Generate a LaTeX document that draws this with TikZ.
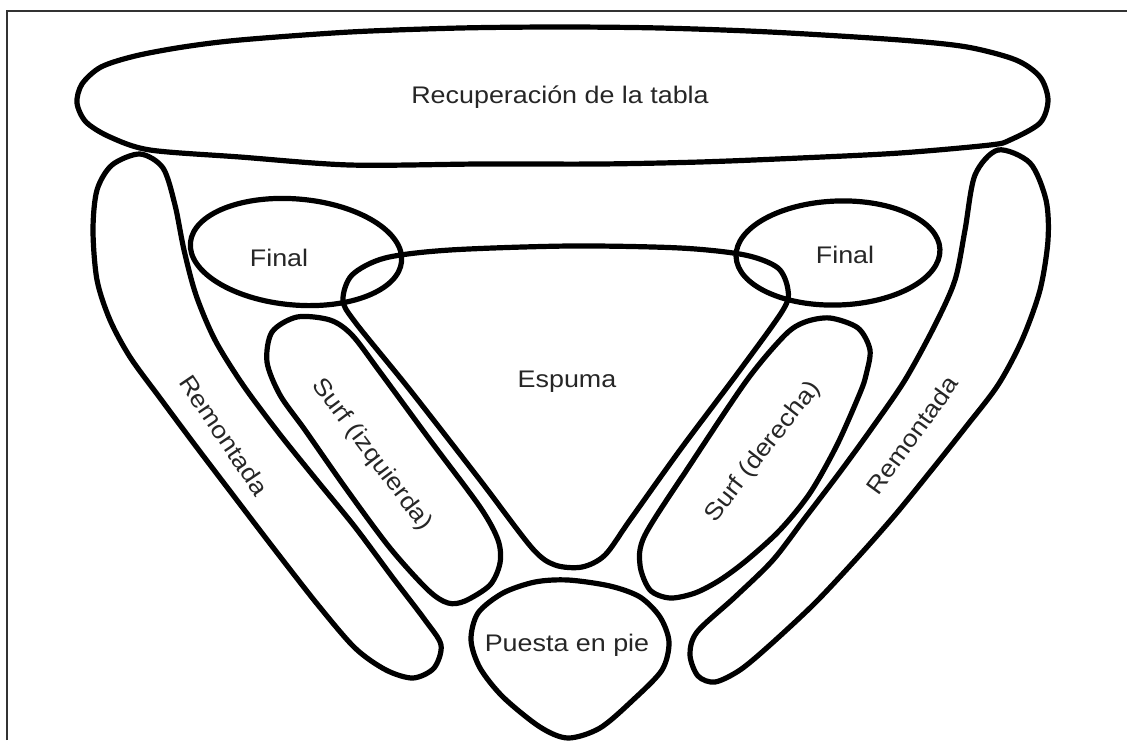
\documentclass[tikz,border=0pt]{standalone}
\usepackage{fontspec}
\setmainfont{Liberation Sans}
\usepackage{tikz}

\newcommand{\wide}[1]{\scalebox{1.12}[1]{#1}}

\begin{document}
\begin{tikzpicture}[x=1pt, y=-1pt,
  blob/.style={line width=5.2pt, line join=round},
  frame/.style={line width=1.8pt, black!80},
  lbl/.style={inner sep=0pt, text=black!85, font=\fontsize{24}{28}\selectfont}]
  \useasboundingbox (0,0) rectangle (1127,740);
  \draw[frame] (7,740) -- (7,11) -- (1127,11);
  \draw[blob] plot[smooth cycle] coordinates {(77,103) (82,84) (101,67) (135,56) (183,47) (240,40) (350,32) (460,28) (560,27) (660,28) (770,32) (900,40) (967,47) (1016,60) (1040,77) (1048,100) (1040,123) (1010,140) (990,145) (900,153) (800,158) (700,162) (600,164) (480,164) (350,165) (240,157) (150,150) (110,137) (86,122)};
  \draw[blob] plot[smooth cycle] coordinates {(140,154) (112,165) (97,190) (93,230) (97,280) (110,320) (130,357) (160,398) (195,445) (233,495) (275,550) (318,605) (355,648) (386,670) (413,678) (434,668) (441,645) (425,620) (393,578) (355,527) (315,478) (278,432) (243,385) (215,340) (196,295) (184,250) (175,205) (163,168)};
  \draw[blob] plot[smooth cycle] coordinates {(998,150) (1030,163) (1046,200) (1048,240) (1040,290) (1022,340) (998,385) (965,428) (930,472) (895,515) (858,557) (815,603) (770,645) (740,670) (715,682) (698,676) (690,655) (697,632) (735,597) (773,560) (805,518) (840,472) (872,428) (905,380) (935,325) (955,280) (965,230) (975,175)};
  \draw[blob, rotate around={-5:(296,252)}] (296,252) ellipse [x radius=106, y radius=53];
  \draw[blob, rotate around={2:(838,253)}] (838,253) ellipse [x radius=102, y radius=52];
  \draw[blob] plot[smooth cycle] coordinates {(343,300) (352,275) (385,258) (450,250) (570,246) (680,248) (745,255) (778,268) (788,290) (783,310) (740,370) (680,450) (630,520) (605,555) (582,567) (555,565) (532,548) (480,480) (410,390) (355,322)};
  \draw[blob] plot[smooth cycle] coordinates {(297,317) (330,320) (352,335) (380,372) (430,440) (480,507) (498,540) (500,563) (490,585) (465,601) (448,603) (428,590) (390,548) (347,490) (305,430) (280,395) (267,362) (272,332)};
  \draw[blob] plot[smooth cycle] coordinates {(830,318) (858,328) (870,350) (866,375) (860,393) (837,445) (810,493) (780,530) (747,560) (720,580) (695,593) (670,598) (650,590) (640,565) (645,535) (690,465) (747,380) (785,335) (805,322)};
  \draw[blob] plot[smooth cycle] coordinates {(568,580) (610,586) (640,597) (660,617) (669,642) (662,670) (633,700) (600,728) (568,738) (540,727) (503,697) (480,668) (471,640) (478,613) (503,593) (535,582)};
  \node[lbl] (tabla) at (560,97) {\wide{Recuperación de la tabla}};
  \node[lbl] (finalL) at (279,258) {\wide{Final}};
  \node[lbl] (finalR) at (845,255) {\wide{Final}};
  \node[lbl] (espuma) at (567,382) {\wide{Espuma}};
  \node[lbl] (pie) at (567,645) {\wide{Puesta en pie}};
  \node[lbl, rotate=-53] (surfL) at (372,455) {\wide{Surf (izquierda)}};
  \node[lbl, rotate=-56] (remL) at (224,435) {\wide{Remontada}};
  \node[lbl, rotate=52] (surfR) at (763,452) {\wide{Surf (derecha)}};
  \node[lbl, rotate=54] (remR) at (912,435) {\wide{Remontada}};
\end{tikzpicture}
\end{document}
